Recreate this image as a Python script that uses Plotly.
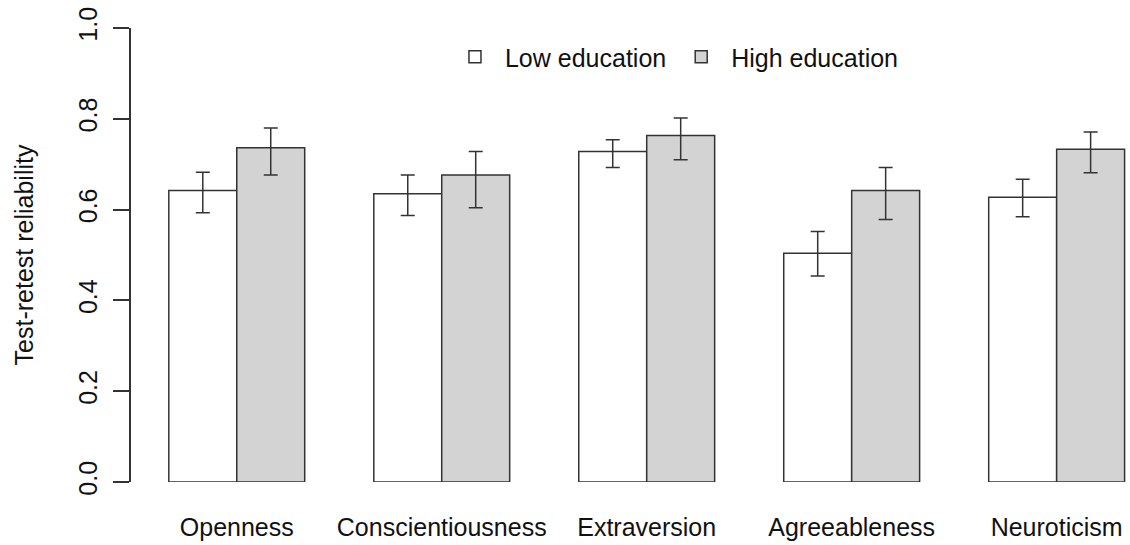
import plotly.graph_objects as go

traits = ["Openness", "Conscientiousness", "Extraversion", "Agreeableness", "Neuroticism"]

low_values = [0.642, 0.635, 0.728, 0.504, 0.627]
low_upper = [0.682, 0.676, 0.754, 0.552, 0.667]
low_lower = [0.593, 0.587, 0.693, 0.454, 0.584]

high_values = [0.736, 0.676, 0.763, 0.642, 0.733]
high_upper = [0.780, 0.728, 0.802, 0.693, 0.771]
high_lower = [0.676, 0.604, 0.710, 0.578, 0.681]

y_ticks = [0.0, 0.2, 0.4, 0.6, 0.8, 1.0]
y_tick_labels = ["0.0", "0.2", "0.4", "0.6", "0.8", "1.0"]

FONT = "Liberation Sans, Arial, sans-serif"
EDGE = "#333333"
TXT = "#111111"
FS = 25


def err(values, upper, lower):
    return dict(
        type="data",
        symmetric=False,
        array=[u - v for u, v in zip(upper, values)],
        arrayminus=[v - l for v, l in zip(values, lower)],
        color=EDGE,
        thickness=1.5,
        width=7,
    )


fig = go.Figure()
fig.add_trace(go.Bar(
    x=traits, y=low_values, name="Low education",
    marker=dict(color="white", line=dict(color=EDGE, width=1.5)),
    error_y=err(low_values, low_upper, low_lower),
))
fig.add_trace(go.Bar(
    x=traits, y=high_values, name="High education",
    marker=dict(color="#d3d3d3", line=dict(color=EDGE, width=1.5)),
    error_y=err(high_values, high_upper, high_lower),
))

fig.update_layout(
    width=1130, height=545,
    margin=dict(l=131, r=1, t=28, b=63),
    paper_bgcolor="white", plot_bgcolor="white",
    barmode="group", bargap=0.337, bargroupgap=0,
    font=dict(family=FONT, size=FS, color=TXT),
    showlegend=True,
    legend=dict(
        orientation="h", x=0.3146, xanchor="left", y=0.936, yanchor="middle",
        font=dict(family=FONT, size=FS, color=TXT),
        bgcolor="rgba(0,0,0,0)", itemwidth=50, traceorder="normal",
    ),
    xaxis=dict(
        range=[-0.516, 4.353], showline=False, showgrid=False, zeroline=False,
        ticks="", tickfont=dict(family=FONT, size=FS, color=TXT),
        ticklabelstandoff=28,
    ),
    yaxis=dict(
        range=[0, 1], tickvals=y_ticks, ticktext=y_tick_labels,
        showline=True, linecolor=EDGE, linewidth=1.5,
        ticks="outside", ticklen=16, tickwidth=1.5, tickcolor=EDGE,
        tickangle=-90, showgrid=False, zeroline=False,
        tickfont=dict(family=FONT, size=FS, color=TXT),
        ticklabelstandoff=6,
        title=dict(text="Test-retest reliability", standoff=34,
                   font=dict(family=FONT, size=FS, color=TXT)),
    ),
)

fig.write_html(
    "out.html",
    config={"displayModeBar": False},
    post_script="document.body.style.margin='0';document.body.style.overflow='hidden';",
)
